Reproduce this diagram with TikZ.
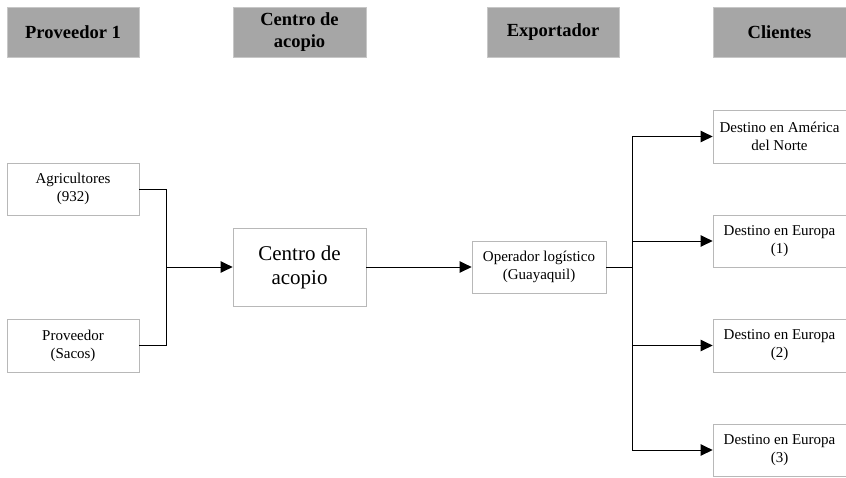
\documentclass[tikz,border=0pt]{standalone}
\usepackage{fontspec}
\setmainfont{Liberation Serif}
\usetikzlibrary{arrows.meta}
\begin{document}
\begin{tikzpicture}[x=1pt,y=-1pt,
  header/.style={draw=black!22, fill=black!35, line width=0.8pt, align=center, inner sep=0pt,
    minimum width=132pt, minimum height=50pt, font=\fontsize{18.5}{21.5}\selectfont\bfseries},
  box/.style={draw=black!28, fill=white, line width=0.8pt, align=center, inner sep=0pt,
    minimum width=133pt, minimum height=52pt, font=\fontsize{15}{18}\selectfont},
  bigbox/.style={box, minimum height=78pt, font=\fontsize{21}{24}\selectfont},
  conn/.style={draw=black, line width=1pt},
  arr/.style={conn, -{Triangle[length=12pt,width=11.5pt]}}]
\useasboundingbox (0,0) rectangle (846,477);
% headers
\node[header] (h1) at (73,32) {Proveedor 1};
\node[header, minimum width=133pt] (h2) at (299.5,32) {Centro de\\acopio};
\node[header] (h3) at (553,32) {Exportador};
\node[header, minimum width=133pt] (h4) at (779.5,32) {Clientes};
% boxes
\node[box, minimum width=132pt] (agr) at (73,189) {Agricultores\\(932)};
\node[box, minimum width=132pt, minimum height=53pt] (prov) at (73,345.5) {Proveedor\\(Sacos)};
\node[bigbox] (centro) at (299.5,267) {Centro de\\acopio};
\node[box, minimum width=134pt] (oper) at (539,267) {Operador logístico\\(Guayaquil)};
\node[box, minimum height=53pt] (am) at (779.5,136.5) {Destino en América\\del Norte};
\node[box] (eu1) at (779.5,241) {Destino en Europa\\(1)};
\node[box, minimum height=53pt] (eu2) at (779.5,345.5) {Destino en Europa\\(2)};
\node[box] (eu3) at (779.5,450) {Destino en Europa\\(3)};
% junctions
\coordinate (jL) at (166,267);
\coordinate (jR) at (632,267);
% connectors
\draw[conn] (agr.east) -- (jL |- agr.east) -- (jL |- prov.east) -- (prov.east);
\draw[arr] (jL) -- (centro.west);
\draw[arr] (centro.east) -- (oper.west);
\draw[conn] (oper.east) -- (jR);
\draw[conn] (jR |- am.west) -- (jR |- eu3.west);
\draw[arr] (jR |- am.west) -- (am.west);
\draw[arr] (jR |- eu1.west) -- (eu1.west);
\draw[arr] (jR |- eu2.west) -- (eu2.west);
\draw[arr] (jR |- eu3.west) -- (eu3.west);
\end{tikzpicture}
\end{document}
